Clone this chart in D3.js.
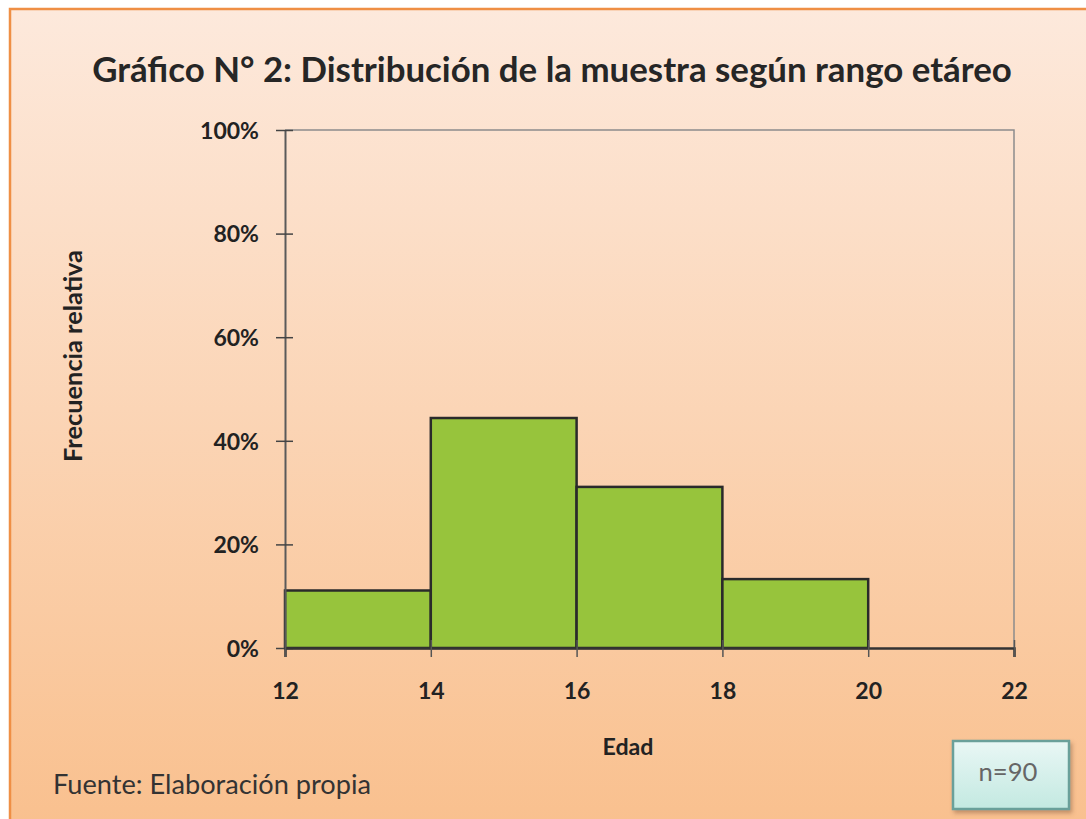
<!DOCTYPE html>
<html><head><meta charset="utf-8">
<script src="https://cdn.jsdelivr.net/npm/d3@7"></script>
<style>body{margin:0;background:#fff;}svg{display:block;}</style>
</head><body>
<svg id="c" width="1086" height="819"></svg>
<script>
const binStarts = [12, 14, 16, 18];
const binWidth = 2;
const freq = [0.111, 0.444, 0.311, 0.133];
const xTicks = [12, 14, 16, 18, 20, 22];
const yTicks = [0, 0.2, 0.4, 0.6, 0.8, 1.0];
const titleText = "Gráfico N° 2: Distribución de la muestra según rango etáreo";
const xLabel = "Edad";
const yLabel = "Frecuencia relativa";
const sourceText = "Fuente: Elaboración propia";
const nText = "n=90";

const svg = d3.select("#c");
const defs = svg.append("defs");
const bg = defs.append("linearGradient").attr("id","bg").attr("x1",0).attr("y1",0).attr("x2",0).attr("y2",1);
bg.append("stop").attr("offset","0%").attr("stop-color","#fde9dc");
bg.append("stop").attr("offset","100%").attr("stop-color","#f9c08e");
const nb = defs.append("linearGradient").attr("id","nb").attr("x1",0).attr("y1",0).attr("x2",0).attr("y2",1);
nb.append("stop").attr("offset","0%").attr("stop-color","#e9f7f5");
nb.append("stop").attr("offset","100%").attr("stop-color","#c3e9e1");
const sh = defs.append("filter").attr("id","sh").attr("x","-20%").attr("y","-20%").attr("width","150%").attr("height","160%");
sh.append("feDropShadow").attr("dx",2).attr("dy",3).attr("stdDeviation",2).attr("flood-color","#7a5030").attr("flood-opacity",0.45);

svg.append("rect").attr("x",10).attr("y",9).attr("width",1090).attr("height",820)
  .attr("fill","url(#bg)").attr("stroke","#ef8f45").attr("stroke-width",2.5);

const font = "Lato, 'Open Sans', sans-serif";
function fit(sel, target, base) {
  sel.attr("font-size", base);
  const w = sel.node().getComputedTextLength();
  const s = base * target / w;
  sel.attr("font-size", s);
  return s;
}

const L=285, R=1014, T=130, B=648;
const x = d3.scaleLinear().domain([12,22]).range([L,R]);
const y = d3.scaleLinear().domain([0,1]).range([B,T]);

// plot area frame (top and right)
svg.append("path").attr("d",`M${L},${T}H${R}V${B}`).attr("fill","none").attr("stroke","#8c8c8c").attr("stroke-width",1.5);

// bars
svg.append("g").selectAll("rect").data(binStarts).join("rect")
  .attr("x",d=>x(d)).attr("width",d=>x(d+binWidth)-x(d))
  .attr("y",(d,i)=>y(freq[i])).attr("height",(d,i)=>y(0)-y(freq[i]))
  .attr("fill","#97c43c").attr("stroke","#2a2a2a").attr("stroke-width",2.5);

// y axis
const ya = svg.append("g").attr("transform",`translate(${L},0)`)
  .call(d3.axisLeft(y).tickValues(yTicks).tickFormat(d3.format(".0%")).tickSizeInner(-8).tickSizeOuter(0).tickPadding(26));
ya.select(".domain").attr("stroke","#5a5a5a").attr("stroke-width",2);
ya.selectAll(".tick line").attr("stroke","#444").attr("stroke-width",1.5).attr("x1",-9).attr("x2",8);
const yt = ya.selectAll("text").attr("font-family",font).attr("font-weight","bold").attr("fill","#222").attr("dy","0.36em");
const ys = fit(ya.select(".tick:last-of-type text"), 59, 19);
yt.attr("font-size", ys);

// x axis
const xa = svg.append("g").attr("transform",`translate(0,${B})`)
  .call(d3.axisBottom(x).tickValues(xTicks).tickFormat(d3.format("d")).tickSizeOuter(0).tickSize(9).tickPadding(24));
xa.select(".domain").attr("stroke","#333").attr("stroke-width",2.5);
xa.selectAll(".tick line").attr("stroke","#555").attr("stroke-width",1.5).attr("y1",-8).attr("y2",9);
xa.selectAll("text").attr("font-family",font).attr("font-weight","bold").attr("font-size",ys).attr("fill","#222")
  .attr("y",null).attr("dy",null).attr("transform","translate(0,51)");

// title
const t = svg.append("text").attr("x",552).attr("y",82).attr("text-anchor","middle")
  .attr("font-family",font).attr("font-weight","bold").attr("fill","#262626").text(titleText);
fit(t, 920, 31);

const xl = svg.append("text").attr("x",628).attr("y",755).attr("text-anchor","middle")
  .attr("font-family",font).attr("font-weight","bold").attr("fill","#222").text(xLabel);
fit(xl, 51, 20);

const yl = svg.append("text").attr("transform","translate(82,356) rotate(-90)").attr("text-anchor","middle")
  .attr("font-family",font).attr("font-weight","bold").attr("fill","#222").text(yLabel);
fit(yl, 212, 19);

const src = svg.append("text").attr("x",53).attr("y",794)
  .attr("font-family",font).attr("fill","#333").text(sourceText);
fit(src, 318, 23);

svg.append("rect").attr("x",953).attr("y",741).attr("width",116).attr("height",68)
  .attr("fill","url(#nb)").attr("stroke","#6aa09a").attr("stroke-width",2.5).attr("filter","url(#sh)");
const nt = svg.append("text").attr("x",1008).attr("y",781).attr("text-anchor","middle")
  .attr("font-family",font).attr("fill","#666").text(nText);
fit(nt, 59, 22);
</script>
</body></html>
